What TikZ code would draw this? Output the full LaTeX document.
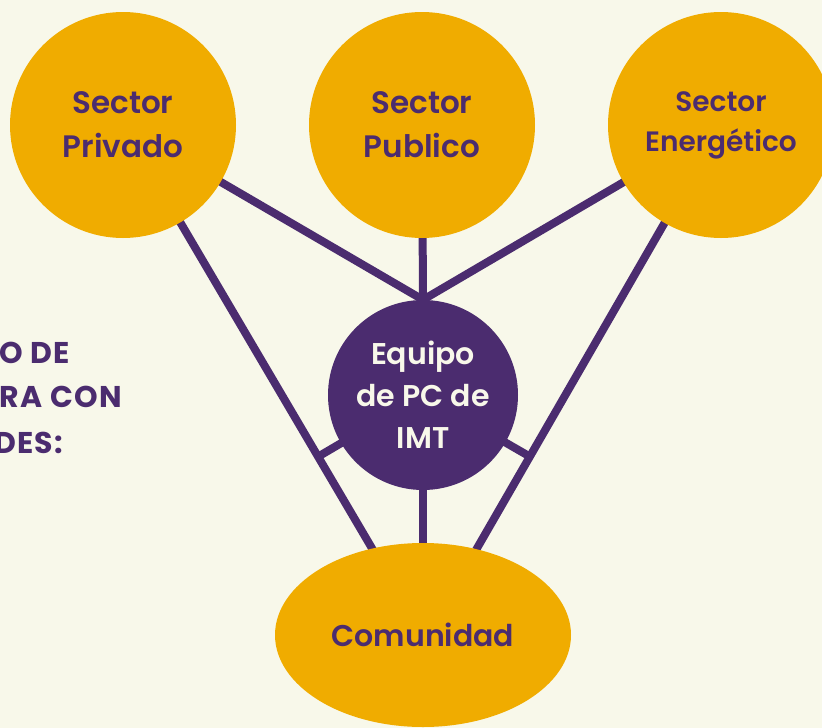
\documentclass[tikz,border=0pt]{standalone}
\usepackage{fontspec}
\setmainfont{Poppins}[BoldFont={* SemiBold}]
\newfontfamily\headfont{Poppins}[UprightFont={* Bold},LetterSpace=4]
\usetikzlibrary{shapes.geometric,calc,backgrounds}
\definecolor{bgc}{HTML}{F8F8EA}
\definecolor{gold}{HTML}{F0AC00}
\definecolor{purp}{HTML}{4B2C6F}
\tikzset{
  sectorc/.style={circle,fill=gold,minimum size=226pt,inner sep=0pt,text=purp,font=\bfseries\fontsize{31}{44}\selectfont,align=center},
  hubc/.style={circle,fill=purp,minimum size=190pt,inner sep=0pt,text=bgc,font=\bfseries\fontsize{30}{42}\selectfont,align=center},
  comc/.style={ellipse,fill=gold,minimum width=296pt,minimum height=184pt,inner sep=0pt,text=purp,font=\bfseries\fontsize{30}{30}\selectfont},
  link/.style={draw=purp,line width=8pt},
  headtxt/.style={text=purp,font=\headfont\fontsize{30}{30}\selectfont,inner sep=0pt,anchor=east}
}
\begin{document}
\begin{tikzpicture}[x=1pt,y=-1pt]
\useasboundingbox (0,0) rectangle (822,728);
\clip (0,0) rectangle (822,728);
\node[sectorc] (priv) at (123,125) {Sector\\Privado};
\node[sectorc] (pub) at (422,125) {Sector\\Publico};
\node[sectorc,font=\bfseries\fontsize{28}{40}\selectfont] (ener) at (721,125) {Sector\\Energético};
\node[hubc] (eq) at (423,395) {Equipo\\de PC de\\IMT};
\node[comc] (com) at (423,635) {Comunidad};
\coordinate (cL) at (373,550);
\coordinate (cR) at (476,550);
\node[headtxt] (h1) at (70,353) {O DE};
\node[headtxt] (h2) at (122,397) {RA CON};
\node[headtxt] (h3) at (63,443) {DES:};
\begin{scope}[on background layer]
\fill[bgc] (0,0) rectangle (822,728);
\draw[link] (priv.center) -- (eq.north);
\draw[link] (pub.center) -- (eq.north);
\draw[link] (ener.center) -- (eq.north);
\draw[link] (priv.center) -- (cL);
\draw[link] (ener.center) -- (cR);
\draw[link] (eq.center) -- (com.center);
\draw[link] (eq.center) -- ($(priv.center)!(eq.center)!(cL)$);
\draw[link] (eq.center) -- ($(ener.center)!(eq.center)!(cR)$);
\end{scope}
\end{tikzpicture}
\end{document}
